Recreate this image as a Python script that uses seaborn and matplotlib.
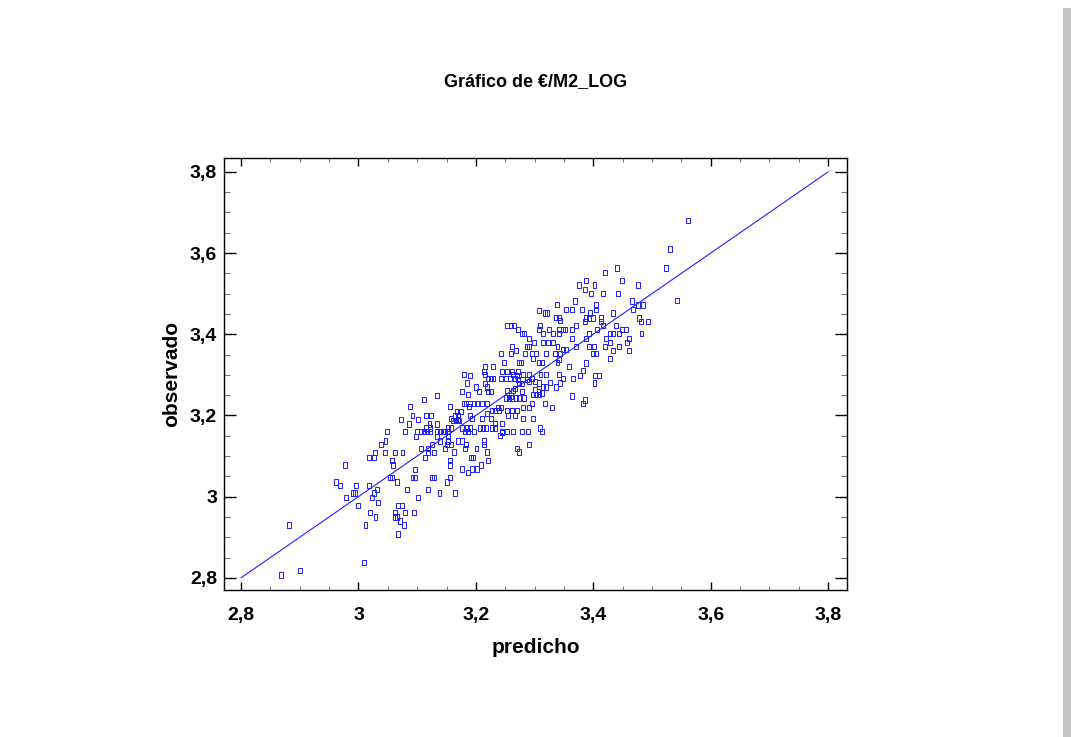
import matplotlib
matplotlib.use("Agg")
import matplotlib.pyplot as plt
import seaborn as sns
import pandas as pd
from matplotlib.ticker import MultipleLocator, FixedLocator, FixedFormatter
from matplotlib.patches import Rectangle

# ---------------- data ----------------
predicho = [
    2.881, 2.868, 2.901, 3.009, 2.977, 2.961, 2.968, 2.996, 3.018, 2.990,
    2.994, 2.978, 3.000, 3.019, 3.029, 3.012, 3.023, 3.027, 3.032, 3.033,
    3.018, 3.027, 3.028, 3.045, 3.039, 3.046, 3.057, 3.059, 3.063, 3.075,
    3.054, 3.057, 3.065, 3.082, 3.096, 3.092, 3.097, 3.101, 3.118, 3.125,
    3.128, 3.068, 3.074, 3.063, 3.079, 3.094, 3.062, 3.066, 3.071, 3.078,
    3.068, 3.107, 3.114, 3.118, 3.118, 3.126, 3.129, 3.138,
    3.179, 3.134, 3.111, 3.088, 3.092, 3.115, 3.124, 3.072, 3.101, 3.086,
    3.121, 3.134, 3.048, 3.079, 3.099, 3.106, 3.111, 3.116, 3.122, 3.115,
    3.122, 3.134, 3.139, 3.144, 3.148, 3.153, 3.098, 3.134, 3.153, 3.153,
    3.158, 3.161, 3.166, 3.172, 3.156, 3.167, 3.175, 3.164, 3.169, 3.157,
    3.170, 3.179, 3.183, 3.189, 3.187, 3.177, 3.185, 3.176, 3.185, 3.182,
    3.187,
    3.307, 3.318, 3.337, 3.341, 3.253, 3.259, 3.265, 3.271, 3.278, 3.282,
    3.291, 3.299, 3.314, 3.309, 3.307, 3.314, 3.325, 3.332, 3.341, 3.341,
    3.323, 3.332, 3.287, 3.291, 3.339, 3.261, 3.242, 3.259, 3.268, 3.284,
    3.295, 3.302, 3.319, 3.334, 3.343, 3.297, 3.341, 3.339, 3.248, 3.274,
    3.276, 3.307, 3.312, 3.216, 3.229, 3.214, 3.216, 3.221, 3.225, 3.230,
    3.244, 3.253, 3.261, 3.272, 3.263, 3.270, 3.271, 3.242, 3.251, 3.258,
    3.267, 3.281, 3.291, 3.295, 3.274, 3.278, 3.287, 3.291, 3.301, 3.307,
    3.310, 3.319, 3.341, 3.326, 3.314, 3.319, 3.337, 3.190, 3.200, 3.216,
    3.219, 3.206, 3.220, 3.225, 3.253, 3.263, 3.267, 3.278, 3.259, 3.251,
    3.257, 3.261, 3.268, 3.274, 3.282, 3.297, 3.303, 3.308, 3.301, 3.307,
    3.312, 3.295, 3.318, 3.329, 3.190, 3.197, 3.202, 3.211, 3.219, 3.238,
    3.242, 3.240, 3.227, 3.233, 3.253, 3.261, 3.270, 3.281, 3.291, 3.254,
    3.267, 3.280, 3.298, 3.190, 3.193, 3.210, 3.219, 3.225, 3.233, 3.207,
    3.212, 3.217, 3.227, 3.233, 3.245, 3.245, 3.190, 3.197, 3.241, 3.244,
    3.253, 3.263, 3.278, 3.309, 3.312, 3.289, 3.321, 3.338,
    3.561, 3.530, 3.524, 3.542, 3.420, 3.440, 3.388, 3.375, 3.402, 3.449,
    3.476, 3.385, 3.396, 3.417, 3.442, 3.368, 3.466, 3.353, 3.363, 3.380,
    3.404, 3.404, 3.476, 3.485, 3.468, 3.394, 3.434, 3.388, 3.393, 3.399,
    3.413, 3.478, 3.343, 3.385, 3.413, 3.481, 3.493, 3.370, 3.417, 3.438,
    3.348, 3.352, 3.364, 3.406, 3.449, 3.455, 3.482, 3.392, 3.429, 3.433,
    3.444, 3.363, 3.388, 3.422, 3.460, 3.429, 3.457, 3.348, 3.353, 3.370,
    3.393, 3.401, 3.420, 3.444, 3.460, 3.399, 3.405, 3.434, 3.429, 3.387,
    3.359, 3.383, 3.377, 3.403, 3.409, 3.348, 3.366, 3.343, 3.402, 3.363,
    3.386, 3.383,
    3.139, 3.153, 3.169, 3.177, 3.183, 3.214, 3.213, 3.151, 3.158, 3.147,
    3.181, 3.201, 3.162, 3.219, 3.270, 3.273, 3.291, 3.191, 3.195, 3.156,
    3.156, 3.221, 3.209, 3.176, 3.193, 3.202, 3.186, 3.156, 3.150, 3.165,
]
observado = [
    2.930, 2.807, 2.819, 2.838, 3.078, 3.036, 3.028, 3.028, 3.028, 3.009,
    3.009, 2.998, 2.978, 2.961, 2.950, 2.930, 2.998, 3.009, 3.017, 2.986,
    3.097, 3.097, 3.109, 3.109, 3.129, 3.137, 3.089, 3.078, 3.109, 3.109,
    3.048, 3.048, 3.036, 3.017, 3.067, 3.048, 3.048, 2.998, 3.017, 3.048,
    3.048, 2.978, 2.978, 2.961, 2.961, 2.961, 2.950, 2.950, 2.940, 2.930,
    2.908, 3.118, 3.097, 3.118, 3.109, 3.129, 3.109, 3.009,
    3.300, 3.249, 3.240, 3.222, 3.199, 3.199, 3.199, 3.189, 3.189, 3.179,
    3.179, 3.179, 3.160, 3.160, 3.160, 3.160, 3.160, 3.160, 3.160, 3.169,
    3.169, 3.160, 3.160, 3.160, 3.160, 3.160, 3.148, 3.148, 3.148, 3.169,
    3.169, 3.187, 3.187, 3.187, 3.222, 3.210, 3.210, 3.199, 3.199, 3.193,
    3.189, 3.230, 3.230, 3.222, 3.251, 3.259, 3.280, 3.169, 3.169, 3.160,
    3.160,
    3.458, 3.452, 3.442, 3.442, 3.421, 3.421, 3.421, 3.411, 3.401, 3.401,
    3.390, 3.380, 3.380, 3.421, 3.411, 3.401, 3.411, 3.401, 3.411, 3.401,
    3.380, 3.380, 3.370, 3.370, 3.370, 3.370, 3.353, 3.353, 3.360, 3.353,
    3.353, 3.353, 3.353, 3.353, 3.353, 3.341, 3.339, 3.330, 3.330, 3.330,
    3.330, 3.330, 3.330, 3.320, 3.320, 3.308, 3.300, 3.290, 3.290, 3.290,
    3.308, 3.308, 3.308, 3.308, 3.300, 3.298, 3.288, 3.290, 3.290, 3.290,
    3.290, 3.300, 3.300, 3.290, 3.278, 3.278, 3.288, 3.283, 3.283, 3.280,
    3.300, 3.300, 3.300, 3.281, 3.270, 3.270, 3.270, 3.298, 3.270, 3.278,
    3.270, 3.259, 3.259, 3.259, 3.261, 3.261, 3.267, 3.259, 3.248, 3.243,
    3.243, 3.243, 3.243, 3.243, 3.243, 3.251, 3.251, 3.251, 3.263, 3.259,
    3.255, 3.229, 3.229, 3.220, 3.229, 3.229, 3.229, 3.229, 3.229, 3.220,
    3.220, 3.212, 3.212, 3.212, 3.212, 3.212, 3.212, 3.220, 3.220, 3.199,
    3.199, 3.193, 3.193, 3.199, 3.193, 3.193, 3.204, 3.193, 3.181, 3.169,
    3.169, 3.169, 3.169, 3.169, 3.181, 3.160, 3.169, 3.160, 3.150, 3.158,
    3.160, 3.160, 3.160, 3.169, 3.160, 3.160, 3.452, 3.473,
    3.680, 3.610, 3.563, 3.483, 3.552, 3.563, 3.533, 3.521, 3.521, 3.533,
    3.521, 3.511, 3.501, 3.501, 3.501, 3.482, 3.482, 3.461, 3.461, 3.461,
    3.472, 3.461, 3.472, 3.472, 3.461, 3.452, 3.452, 3.440, 3.440, 3.440,
    3.440, 3.440, 3.433, 3.431, 3.431, 3.431, 3.431, 3.421, 3.421, 3.421,
    3.411, 3.411, 3.411, 3.411, 3.411, 3.411, 3.401, 3.401, 3.401, 3.401,
    3.401, 3.390, 3.390, 3.390, 3.390, 3.380, 3.380, 3.362, 3.362, 3.370,
    3.370, 3.370, 3.370, 3.370, 3.360, 3.352, 3.352, 3.360, 3.341, 3.329,
    3.320, 3.310, 3.299, 3.299, 3.299, 3.290, 3.290, 3.280, 3.280, 3.248,
    3.238, 3.230,
    3.137, 3.137, 3.137, 3.137, 3.128, 3.137, 3.128, 3.128, 3.128, 3.118,
    3.118, 3.118, 3.110, 3.110, 3.118, 3.110, 3.128, 3.097, 3.097, 3.089,
    3.078, 3.089, 3.078, 3.068, 3.068, 3.068, 3.059, 3.048, 3.036, 3.009,
]

# regression (fitted) line end points
line_x = [2.8, 3.8]
line_y = [2.8, 3.8]

tick_values = [2.8, 3.0, 3.2, 3.4, 3.6, 3.8]
tick_labels = ["2,8", "3", "3,2", "3,4", "3,6", "3,8"]

title = "Gráfico de €/M2_LOG"
xlabel = "predicho"
ylabel = "observado"

# ---------------- styling ----------------
sns.set_theme(style="white")
plt.rcParams["font.family"] = ["Liberation Sans Narrow", "Liberation Sans", "DejaVu Sans"]
plt.rcParams["font.weight"] = "bold"
plt.rcParams["text.color"] = "black"
plt.rcParams["axes.labelcolor"] = "black"
plt.rcParams["xtick.color"] = "black"
plt.rcParams["ytick.color"] = "black"

BLUE = "#2020ff"

fig = plt.figure(figsize=(10.71, 7.37), dpi=100)
fig.patch.set_facecolor("white")
ax = fig.add_axes([224 / 1071, 1 - 590 / 737, (847 - 224) / 1071, (590 - 158) / 737])

df = pd.DataFrame({"predicho": predicho, "observado": observado})
sns.lineplot(x=line_x, y=line_y, ax=ax, color=BLUE, linewidth=0.8)

rect_marker = [(-0.38, -0.5), (0.38, -0.5), (0.38, 0.5), (-0.38, 0.5), (-0.38, -0.5)]
sns.scatterplot(data=df, x="predicho", y="observado", ax=ax, marker=rect_marker,
                s=14, color=BLUE, edgecolor=BLUE, linewidth=0.7)
coll = ax.collections[-1]
coll.set_facecolor("none")
coll.set_edgecolor(BLUE)

ax.set_xlim(2.771, 3.832)
ax.set_ylim(2.770, 3.834)

for a in (ax.xaxis, ax.yaxis):
    a.set_major_locator(FixedLocator(tick_values))
    a.set_major_formatter(FixedFormatter(tick_labels))
    a.set_minor_locator(MultipleLocator(0.05))

ax.tick_params(axis="x", which="major", direction="in", length=6, width=1,
               top=True, bottom=True, labelsize=14, pad=12, colors="black")
ax.tick_params(axis="x", which="minor", direction="in", length=3.2, width=0.8,
               top=True, bottom=True, color="#777777")
ax.tick_params(axis="y", which="major", direction="in", length=8.6, width=1,
               left=True, right=True, labelsize=14, pad=5, colors="black")
ax.tick_params(axis="y", which="minor", direction="in", length=4.3, width=0.8,
               left=True, right=True, color="#777777")
for lab in ax.get_xticklabels() + ax.get_yticklabels():
    lab.set_fontweight("bold")
    lab.set_color("black")

for sp in ax.spines.values():
    sp.set_visible(True)
    sp.set_color("black")
    sp.set_linewidth(1.0)

ax.set_xlabel(xlabel, fontsize=15, fontweight="bold", labelpad=10, color="black")
ax.set_ylabel(ylabel, fontsize=15, fontweight="bold", labelpad=6, color="black")
ax.set_title(title, fontsize=13, fontweight="bold", pad=52, color="black")

# page shadow at the right edge
fig.patches.append(Rectangle((1063 / 1071, 0), 8 / 1071, 1 - 8 / 737,
                             transform=fig.transFigure, facecolor="#c4c4c4",
                             edgecolor="none", zorder=0))

fig.savefig("out.png", dpi=100, facecolor="white")
